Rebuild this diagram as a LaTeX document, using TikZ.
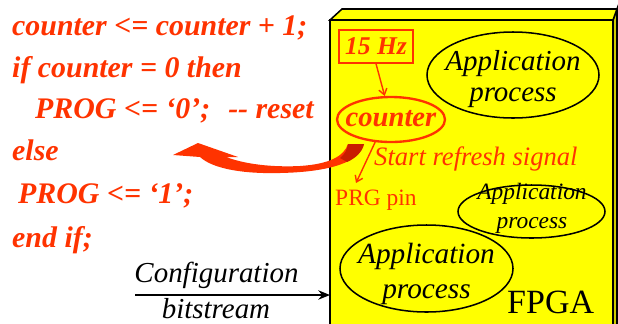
\documentclass[tikz,border=0pt]{standalone}
\usepackage{fontspec}
\setmainfont{Liberation Serif}
\usetikzlibrary{arrows.meta,shapes.geometric}

\definecolor{vhdlred}{RGB}{255,51,0}
\definecolor{arrowshade}{RGB}{200,30,0}
\definecolor{chipyellow}{RGB}{255,255,0}
\definecolor{chipside}{RGB}{205,205,0}

\tikzset{
  code/.style={anchor=base west, inner sep=0pt, text=vhdlred,
    font=\fontsize{25.5}{30}\selectfont\bfseries\itshape},
  oval/.style={draw, ellipse, line width=1.3pt, inner sep=0pt},
  proc/.style={inner sep=0pt, align=center, font=\fontsize{24.7}{27.2}\selectfont\itshape},
  redarrow/.style={draw=vhdlred, line width=1.2pt, -{Straight Barb[length=5pt,width=7pt]}},
}

\begin{document}
\begin{tikzpicture}[x=0.03cm, y=-0.03cm]
\useasboundingbox (0,0) rectangle (618,323);

% FPGA block
\filldraw[fill=chipside, line width=1.3pt] (613,20) -- (617,9) -- (617,340) -- (613,340) -- cycle;
\filldraw[fill=chipyellow, line width=1.3pt] (330,20) -- (342,9) -- (617,9) -- (613,20) -- cycle;
\filldraw[fill=chipyellow, line width=1.3pt] (330,20) rectangle (613,340);

% VHDL code
\node[code] (line1) at (12,35) {counter <= counter + 1;};
\node[code] (line2) at (12,77) {if counter = 0 then};
\node[code] (line3) at (35,118) {PROG <= ‘0’;\hspace{0.6em}-{}- reset};
\node[code] (line4) at (12,160) {else};
\node[code] (line5) at (18,203) {PROG <= ‘1’;};
\node[code] (line6) at (12,247) {end if;};

% clock and counter
\node[draw=vhdlred, line width=1.2pt, minimum width=2.22cm, minimum height=0.99cm, inner sep=0pt,
  text=vhdlred, font=\fontsize{21.8}{26}\selectfont\bfseries\itshape] (hz) at (376,46.5) {15 Hz};
\node[oval, draw=vhdlred, line width=2pt, minimum width=3.24cm, minimum height=1.35cm] (counter) at (391,119.5) {};
\node[inner sep=0pt, text=vhdlred, font=\fontsize{24.4}{28}\selectfont\bfseries\itshape] (countertxt) at (391,119) {counter};
\draw[redarrow] (hz.south) -- (counter.105);

% application processes
\node[oval, minimum width=5.16cm, minimum height=2.58cm] (app1) at (513,75) {};
\node[proc] (app1txt) at (513,79) {Application\\process};
\node[oval, minimum width=4.41cm, minimum height=1.59cm] (app2) at (531.5,211.5) {};
\node[proc, font=\fontsize{20}{24.7}\selectfont\itshape] (app2txt) at (532,208.5) {Application\\process};
\node[oval, minimum width=5.19cm, minimum height=2.61cm] (app3) at (426.5,268.5) {};
\node[proc, font=\fontsize{25}{29.8}\selectfont\itshape] (app3txt) at (426.5,273.5) {Application\\process};

\node[anchor=base west, inner sep=0pt, font=\fontsize{29}{34}\selectfont] (fpga) at (507,313) {FPGA};

% refresh signal
\node[anchor=base west, inner sep=0pt, text=vhdlred, font=\fontsize{22.7}{27}\selectfont\itshape] (refresh) at (374,165) {Start refresh signal};
\node[anchor=base west, inner sep=0pt, text=vhdlred, font=\fontsize{20}{24}\selectfont] (prg) at (335,205) {PRG pin};
\coordinate (prgtip) at (356,183);
\draw[redarrow] (counter.-125) -- (prgtip);

% big bent arrow back to the code
\fill[vhdlred] (364,144) .. controls (360,162) and (330,172) .. (280,173)
  .. controls (240,174) and (212,168) .. (200,157) -- (173,155) -- (198,143) -- (238,157) -- (226,157)
  .. controls (250,166) and (280,167) .. (300,166)
  .. controls (330,164) and (344,156) .. (348,144) -- cycle;
\fill[arrowshade] (364,144) .. controls (362,152) and (356,158) .. (347,162) -- (340,158)
  .. controls (345,154) and (347,150) .. (348,144) -- cycle;

% configuration input
\coordinate (cfgstart) at (135,295);
\coordinate (cfgend) at (330,295);
\draw[line width=1.2pt, -{Stealth[length=10pt,width=8pt]}] (cfgstart) -- (cfgend);
\node[anchor=base, inner sep=0pt, font=\fontsize{24.7}{29}\selectfont\itshape] (cfgtop) at (216.5,282) {Configuration};
\node[anchor=base, inner sep=0pt, font=\fontsize{24.7}{29}\selectfont\itshape] (cfgbottom) at (216,318) {bitstream};
\end{tikzpicture}
\end{document}
